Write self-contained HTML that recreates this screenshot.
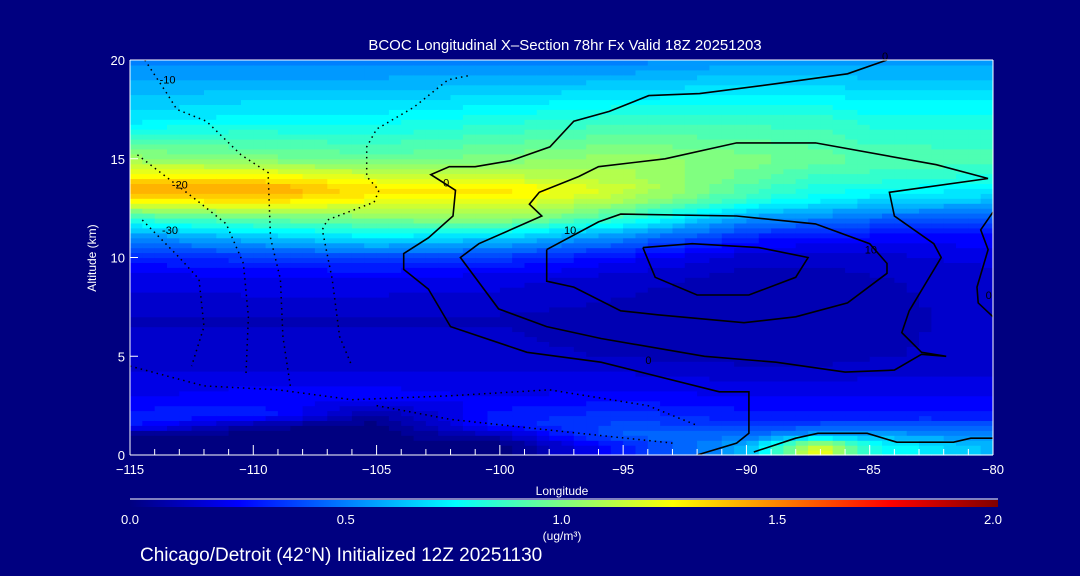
<!DOCTYPE html>
<html><head><meta charset="utf-8"><style>
html,body{margin:0;padding:0;background:#000080;}
svg{display:block;}
text{font-family:"Liberation Sans",sans-serif;fill:#fff;}
</style></head><body>
<svg id="chart" width="1080" height="576" viewBox="0 0 1080 576" xmlns="http://www.w3.org/2000/svg">
<rect x="0" y="0" width="1080" height="576" fill="#000080"/>
<g id="cells"></g>
<g id="contours"></g>
<g id="axes"></g>
<g id="cbar"></g>
<text x="565" y="50" font-size="15" text-anchor="middle">BCOC Longitudinal X–Section 78hr  Fx Valid 18Z 20251203</text>
<text x="562" y="495" font-size="12" text-anchor="middle">Longitude</text>
<text x="96" y="258" font-size="12" text-anchor="middle" transform="rotate(-90 96 258)">Altitude (km)</text>
<text x="562" y="540" font-size="12" text-anchor="middle">(ug/m³)</text>
<text x="140" y="561" font-size="19">Chicago/Detroit (42°N) Initialized 12Z 20251130</text>
</svg>
<script>
const lons=[-115,-110,-105,-100,-95,-90,-87,-85,-80];
const alts=[0,0.5,1,1.5,2,3,5,7,9,10,11,12,13,13.5,14,15,17,20];
const conc=[
[0,0,0,0.3,0.3,0.22,0.14,0.12,0.2,0.3,0.5,0.85,1.3,1.4,1.3,1.05,0.7,0.5],
[0,0,0,0.05,0.32,0.25,0.14,0.12,0.22,0.35,0.62,0.95,1.35,1.45,1.3,1.0,0.75,0.5],
[0,0,0,0,0.05,0.25,0.14,0.12,0.22,0.38,0.7,1.0,1.25,1.3,1.2,0.95,0.75,0.5],
[0,0,0.1,0.3,0.3,0.22,0.14,0.12,0.2,0.35,0.65,1.05,1.25,1.3,1.15,1.0,0.8,0.5],
[0.3,0.3,0.45,0.4,0.35,0.25,0.12,0.1,0.15,0.25,0.5,0.85,1.1,1.15,1.1,1.05,0.85,0.5],
[0.6,0.6,0.45,0.35,0.3,0.22,0.1,0.08,0.1,0.15,0.3,0.55,0.85,0.9,0.95,1.0,0.85,0.55],
[1.25,1.2,0.6,0.4,0.3,0.22,0.1,0.08,0.1,0.15,0.25,0.5,0.75,0.8,0.85,0.95,0.85,0.55],
[0.8,0.8,0.6,0.4,0.3,0.22,0.12,0.1,0.12,0.15,0.25,0.45,0.7,0.78,0.85,0.92,0.8,0.55],
[0.6,0.6,0.5,0.4,0.3,0.22,0.14,0.15,0.15,0.2,0.25,0.4,0.65,0.72,0.8,0.9,0.8,0.55]];
const xTicks=[-115,-110,-105,-100,-95,-90,-85,-80];
const yTicks=[0,5,10,15,20];
const cbTicks=[0.0,0.5,1.0,1.5,2.0];
const solidContours=[
[[-84.3,20],[-85.9,19.3],[-88.8,18.8],[-91.9,18.3],[-93.96,18.2],[-95.56,17.4],[-97,16.9],[-97.97,15.6],[-99.57,14.9],[-101,14.6],[-102.05,14.6],[-102.8,14.2],[-101.8,13.4],[-101.9,12.1],[-102.9,11],[-103.9,10.2],[-103.9,9.4],[-102.9,8.4],[-102,6.5],[-98.9,5.2],[-95.9,4.7],[-91.1,3.2],[-89.9,3.2],[-89.9,1.1],[-90.4,0.6],[-92,0]],
[[-80.2,14],[-82.3,14.7],[-87.2,15.8],[-90.4,15.8],[-93.3,15],[-96,14.6],[-96.8,14.1],[-98.4,13.3],[-98.8,12.7],[-98.3,12.1],[-100.85,10.7],[-101.6,10],[-100.05,7.4],[-98.1,6.5],[-95.9,5.9],[-91.7,5],[-88.8,4.7],[-86,4.2],[-84,4.3],[-82.9,5.1],[-81.9,5],[-82.9,5.2],[-83.7,6.2],[-83.4,7.3],[-82.1,10],[-82.4,10.7],[-84,12.1],[-84.2,13.3],[-80.2,14]],
[[-98.1,10.4],[-96,11.8],[-95.1,12.2],[-90.4,12.1],[-87.2,11.7],[-85,10.7],[-84.3,9.7],[-84.3,9.2],[-85.9,7.7],[-88,7],[-90.1,6.7],[-93.6,7.1],[-95.1,7.3],[-97,8.5],[-98.1,8.8],[-98.1,10.4]],
[[-94.2,10.5],[-92.2,10.7],[-89.5,10.5],[-87.5,10],[-88,9],[-89.9,8.1],[-92,8.1],[-93.7,9],[-94.2,10.5]],
[[-80,12.3],[-80.5,11.4],[-80.2,10.4],[-80.65,8.5],[-80.6,7.7],[-80,7]],
[[-89.7,0.15],[-88,0.85],[-87.1,1.1],[-85.1,1.1],[-83.9,0.65],[-81.6,0.65],[-80.9,0.85],[-80,0.85]]];
const dottedContours=[
[[-114.4,20],[-113.5,18.3],[-113.1,17.5],[-111.9,16.9],[-110.5,15.2],[-109.4,14.3],[-109.3,11],[-108.9,8.9],[-108.8,6],[-108.5,3.5]],
[[-101.3,19.2],[-102.1,19],[-103.5,17.6],[-105,16.5],[-105.4,15.6],[-105.4,14.1],[-104.9,13.4],[-105.1,12.8],[-107,11.9],[-107.2,11.4],[-106.8,8.9],[-106.5,6],[-106,4.5]],
[[-114.7,15.2],[-112.3,12.9],[-111.1,11.7],[-110.4,9.7],[-110.2,7],[-110.3,4]],
[[-114.5,11.9],[-113,10],[-112.2,8.9],[-112,6.5],[-112.5,4.5]],
[[-115,4.5],[-112,3.5],[-109,3.3],[-106,2.8],[-102,3],[-98,3.3],[-94,2.5],[-92,1.5]],
[[-105,2.5],[-102,1.8],[-99,1.4],[-96,1.0],[-93,0.6]]];
const contourLabels=[["0",-102.3,13.6],["10",-97.4,11.2],["10",-85.2,10.2],["0",-94.1,4.6],["0",-84.5,20],["-10",-113.8,18.8],["-20",-113.3,13.5],["-30",-113.7,11.2],["0",-80.3,7.9]];

const X=v=>130+(v+115)*(863/35), Y=a=>455-a*19.75;
const stops=[[0,0,0,128],[.125,0,0,255],[.25,0,128,255],[.375,0,255,255],[.5,128,255,128],[.625,255,255,0],[.75,255,128,0],[.875,255,0,0],[1,128,0,0]];
function cmap(v){let t=Math.max(0,Math.min(1,v/2));for(let i=1;i<stops.length;i++){if(t<=stops[i][0]){const a=stops[i-1],b=stops[i],f=(t-a[0])/(b[0]-a[0]);return`rgb(${Math.round(a[1]+f*(b[1]-a[1]))},${Math.round(a[2]+f*(b[2]-a[2]))},${Math.round(a[3]+f*(b[3]-a[3]))})`;}}return'rgb(128,0,0)';}
function seg(arr,v){for(let i=1;i<arr.length;i++)if(v<=arr[i])return[i-1,(v-arr[i-1])/(arr[i]-arr[i-1])];return[arr.length-2,1];}
function val(lo,al){const[i,fx]=seg(lons,lo),[j,fy]=seg(alts,al);const a=conc[i][j],b=conc[i+1][j],c=conc[i][j+1],d=conc[i+1][j+1];return (a*(1-fx)+b*fx)*(1-fy)+(c*(1-fx)+d*fx)*fy;}
const NS='http://www.w3.org/2000/svg';
function mk(t,at,p){const e=document.createElementNS(NS,t);for(const k in at)e.setAttribute(k,at[k]);p.appendChild(e);return e;}
const cells=document.getElementById('cells');
const dl=0.5,da=0.25;
for(let lo=-115;lo<-80-1e-9;lo+=dl){for(let al=0;al<20-1e-9;al+=da){
 let v=val(lo+dl/2,al+da/2);v=Math.round(v/0.05)*0.05;
 const w=Math.min(dl*863/35+0.6,993-X(lo));
 const r=mk('rect',{x:X(lo).toFixed(1),y:Y(al+da).toFixed(1),width:w.toFixed(1),height:(da*19.75+0.6).toFixed(1),fill:cmap(v)},cells);
 
 
}}
const cg=document.getElementById('contours');
solidContours.forEach(c=>{const p=mk('polyline',{points:c.map(q=>X(q[0]).toFixed(1)+','+Y(q[1]).toFixed(1)).join(' '),fill:'none',stroke:'#000','stroke-width':1.6},cg);

});
dottedContours.forEach(c=>{const p=mk('polyline',{points:c.map(q=>X(q[0]).toFixed(1)+','+Y(q[1]).toFixed(1)).join(' '),fill:'none',stroke:'#000','stroke-width':1.5,'stroke-dasharray':'1.5 4'},cg);

});
contourLabels.forEach(l=>{const t=mk('text',{x:X(l[1]),y:Y(l[2]),'font-size':11,style:'fill:#000'},cg);t.textContent=l[0];

});
const ax=document.getElementById('axes');
mk('line',{x1:130,y1:60,x2:993,y2:60,stroke:'#fff','stroke-width':1},ax);
mk('line',{x1:130,y1:455,x2:993,y2:455,stroke:'#fff','stroke-width':1},ax);
mk('line',{x1:130,y1:60,x2:130,y2:455,stroke:'#fff','stroke-width':1},ax);
mk('line',{x1:993,y1:60,x2:993,y2:455,stroke:'#fff','stroke-width':1},ax);
for(let lo=-115;lo<=-80;lo++){const l=mk('line',{x1:X(lo),y1:455,x2:X(lo),y2:lo%5===0?445:449,stroke:'#fff'},ax);

}
xTicks.forEach(v=>{const t=mk('text',{x:X(v),y:474,'font-size':13,'text-anchor':'middle'},ax);t.textContent=(v<0?'−':'')+Math.abs(v);

});
yTicks.forEach(v=>{const l=mk('line',{x1:130,y1:Y(v),x2:138,y2:Y(v),stroke:'#fff'},ax);


const t=mk('text',{x:125,y:Y(v)+5,'font-size':13,'text-anchor':'end'},ax);t.textContent=v;

});
const cb=document.getElementById('cbar');
const defs=mk('defs',{},cb);const g=mk('linearGradient',{id:'cbg',x1:0,x2:1,y1:0,y2:0},defs);
stops.forEach(s=>mk('stop',{offset:s[0],'stop-color':`rgb(${s[1]},${s[2]},${s[3]})`},g));
mk('line',{x1:130,y1:499,x2:998,y2:499,stroke:'#fff','stroke-width':1},cb);
mk('rect',{x:130,y:500,width:868,height:7,fill:'url(#cbg)'},cb);
cbTicks.forEach(v=>{const t=mk('text',{x:130+v/2*863,y:524,'font-size':13,'text-anchor':'middle'},cb);t.textContent=v.toFixed(1);

});
</script>
</body></html>
